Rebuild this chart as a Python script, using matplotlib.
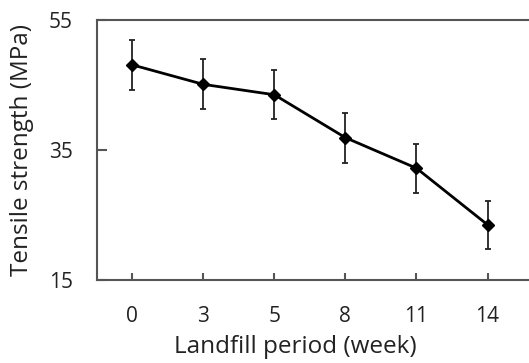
import matplotlib
matplotlib.use("Agg")
import matplotlib.pyplot as plt

categories = ["0", "3", "5", "8", "11", "14"]
strength = [48.1, 45.1, 43.5, 36.9, 32.2, 23.5]
errors = [3.8, 3.85, 3.8, 3.85, 3.8, 3.7]
yticks = [15, 35, 55]

plt.rcParams['font.family'] = ['Open Sans', 'DejaVu Sans']

W, H = 529, 363
fig = plt.figure(figsize=(W/100, H/100), dpi=100)
left, right, top, bottom = 96.7, 529, 20, 280
ax = fig.add_axes([left/W, 1 - bottom/H, (right-left)/W, (bottom-top)/H])

x = list(range(len(categories)))
ax.errorbar(x, strength, yerr=errors, color='black', lw=2, marker='D', ms=6.5,
            ecolor='#222222', elinewidth=1.3, capsize=2.5, capthick=1.3, zorder=3)

ax.set_xlim(-0.5, (right - 132) / 71.1)
ax.set_ylim(15, 55)
ax.set_yticks(yticks)
ax.set_xticks(x)
ax.set_xticklabels(categories)

for s in ['left', 'top', 'bottom']:
    ax.spines[s].set_color('#555555')
    ax.spines[s].set_linewidth(1.5)
ax.spines['right'].set_visible(False)

ax.tick_params(axis='both', direction='in', colors='#555555', width=1.5,
               labelcolor='#222222', labelsize=15)
ax.tick_params(axis='y', length=7, pad=17)
ax.tick_params(axis='x', length=5, pad=19)

ax.set_xlabel('Landfill period (week)', fontsize=17.5, color='#222222')
ax.set_ylabel('Tensile strength (MPa)', fontsize=17.5, color='#222222')
aw, ah = right - left, bottom - top
ax.xaxis.set_label_coords((295 - left) / aw, (bottom - 347) / ah)
ax.yaxis.set_label_coords((22 - left) / aw, (bottom - 150) / ah)
ax.xaxis.label.set_va('center')
ax.yaxis.label.set_va('center')

fig.savefig('out.png', dpi=100)
